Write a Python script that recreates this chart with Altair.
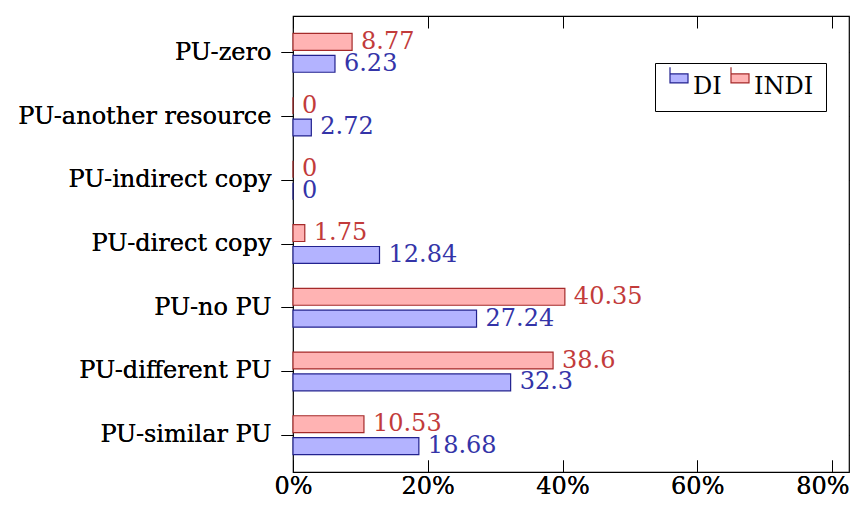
import altair as alt
import pandas as pd

categories = ["PU-zero", "PU-another resource", "PU-indirect copy", "PU-direct copy",
              "PU-no PU", "PU-different PU", "PU-similar PU"]
di_values = [6.23, 2.72, 0, 12.84, 27.24, 32.3, 18.68]
indi_values = [8.77, 0, 0, 1.75, 40.35, 38.6, 10.53]
series = ["DI", "INDI"]
x_ticks = [0, 20, 40, 60, 80]

rows = []
for c, d, i in zip(categories, di_values, indi_values):
    rows.append({"cat": c, "series": "DI", "value": d, "label": f"{d:g}"})
    rows.append({"cat": c, "series": "INDI", "value": i, "label": f"{i:g}"})
df = pd.DataFrame(rows)

FONT = "DejaVu Serif"
FS = 24

fill_colors = ["#b3b3ff", "#ffb3b3"]
stroke_colors = ["#22228f", "#a52a2a"]
text_colors = ["#3434a8", "#c23b3b"]

xscale = alt.Scale(domain=[0, 82.52], nice=False, zero=True)
yscale = alt.Scale(paddingInner=0.3125, paddingOuter=0.234)
yoff = alt.YOffset("series:N", sort=["INDI", "DI"],
                   scale=alt.Scale(paddingInner=0.227, paddingOuter=0.114))

x_bottom = alt.Axis(orient="bottom", values=x_ticks, offset=-12, tickSize=12, domain=False,
                    grid=False, title=None, labelExpr="datum.value + '%'", labelFont=FONT,
                    labelFontSize=FS, labelColor="black", tickColor="black", labelPadding=2,
                    labelAlign={"condition": {"test": "datum.value === 80", "value": "right"},
                                "value": "center"},
                    labelOffset={"condition": {"test": "datum.value === 80", "value": 17},
                                 "value": 0})
y_left = alt.Axis(orient="left", tickSize=12, domain=False, title=None, labelFont=FONT,
                  labelFontSize=FS, labelColor="black", tickColor="black", labelPadding=10,
                  labelLimit=400)

base = alt.Chart(df)

bars = base.mark_bar(strokeWidth=1.2).encode(
    x=alt.X("value:Q", scale=xscale, axis=x_bottom),
    y=alt.Y("cat:N", sort=categories, scale=yscale, axis=y_left),
    yOffset=yoff,
    fill=alt.Fill("series:N", scale=alt.Scale(domain=series, range=fill_colors),
                  legend=alt.Legend(title=None, orient="none", legendX=362, legendY=47,
                                    direction="horizontal", strokeColor="black",
                                    fillColor="white", padding=12, labelFont=FONT,
                                    labelFontSize=FS, labelColor="black",
                                    symbolType="M-1,-2.2L-1,-0.45L1,-0.45L1,-1.45L-1,-1.45Z",
                                    symbolSize=324, symbolStrokeWidth=1.2,
                                    columnPadding=6, labelOffset=2)),
    stroke=alt.Stroke("series:N", scale=alt.Scale(domain=series, range=stroke_colors),
                      legend=None),
)

labels = base.mark_text(align="left", baseline="middle", dx=9, font=FONT, fontSize=FS).encode(
    x=alt.X("value:Q", scale=xscale, axis=x_bottom),
    y=alt.Y("cat:N", sort=categories, scale=yscale, axis=y_left),
    yOffset=yoff,
    text="label:N",
    color=alt.Color("series:N", scale=alt.Scale(domain=series, range=text_colors), legend=None),
)

frame = base.mark_bar(opacity=0).encode(
    x=alt.X("value:Q", scale=xscale,
            axis=alt.Axis(orient="top", values=x_ticks, offset=-12, tickSize=12, domain=False,
                          labels=False, grid=False, title=None, tickColor="black")),
    y=alt.Y("cat:N", sort=categories, scale=yscale,
            axis=alt.Axis(orient="right", tickSize=10, domain=False, labels=False,
                          title=None, tickColor="black")),
    yOffset=yoff,
)

chart = alt.layer(bars, labels, frame).resolve_axis(x="independent", y="independent").properties(
    width=556, height=456,
    autosize=alt.AutoSizeParams(type="none"),
    padding={"left": 285, "top": 8, "right": 1, "bottom": 29},
    background="white",
).configure_view(stroke="black", strokeWidth=1.2)

chart.save("out.html", embed_options={"renderer": "svg", "actions": False})
